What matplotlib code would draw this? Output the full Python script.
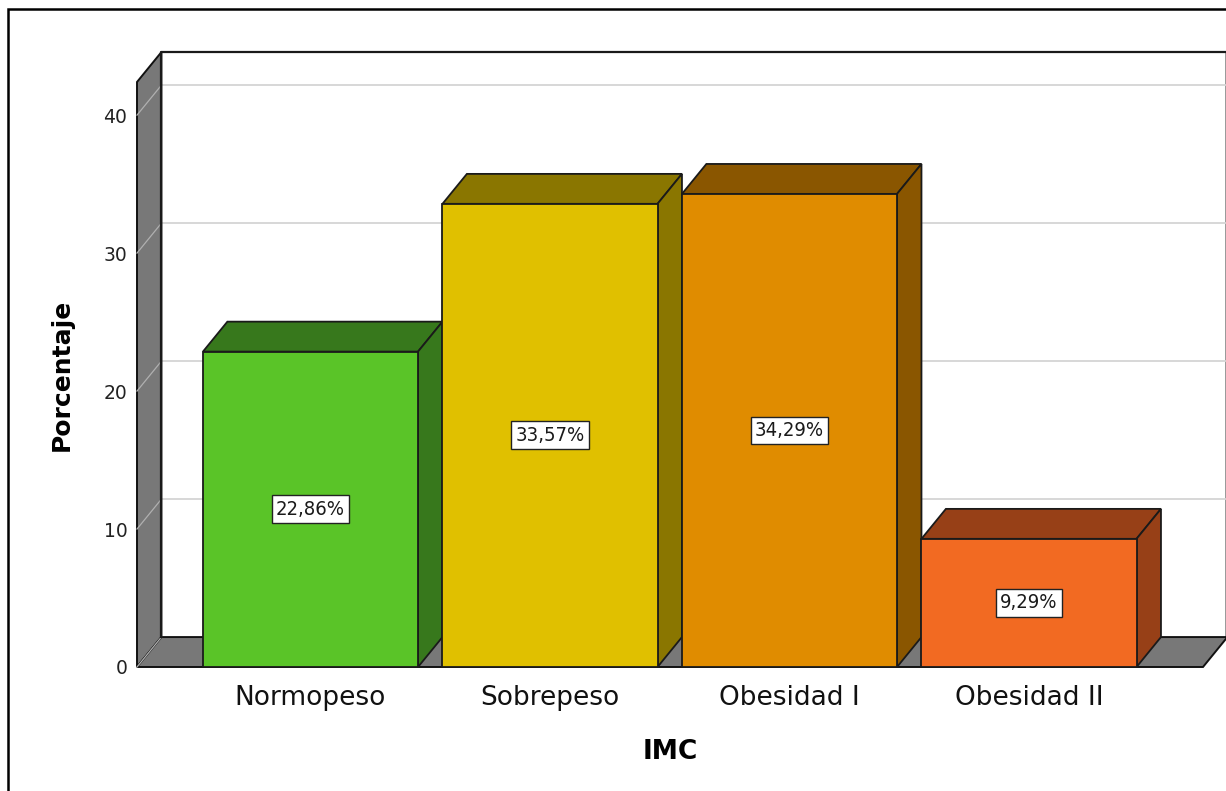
import matplotlib
matplotlib.use("Agg")
import matplotlib.pyplot as plt
from matplotlib.patches import Polygon, Rectangle
from matplotlib.lines import Line2D

# datos
categorias = ["Normopeso", "Sobrepeso", "Obesidad I", "Obesidad II"]
porcentajes = [22.86, 33.57, 34.29, 9.29]
etiquetas = ["22,86%", "33,57%", "34,29%", "9,29%"]
colores_frente = ["#5ac428", "#e0c000", "#e08c00", "#f26a22"]
colores_lado = ["#37781c", "#8a7600", "#8a5600", "#974017"]
ticks_y = [0, 10, 20, 30, 40]

# geometria (unidades de datos)
X_IZQ, X_DER = -0.7244, 3.7265
Y_MAX = 42.4
ANCHO = 0.898
DX, DY = 0.102, 2.17
GRIS = "#787878"

fig = plt.figure(figsize=(12.26, 7.91), dpi=100)
ax = fig.add_axes([137/1226, (791-667)/791, (1203-137)/1226, (667-82)/791])
ax.set_xlim(X_IZQ, X_DER)
ax.set_ylim(0, Y_MAX)
for s in ax.spines.values():
    s.set_visible(False)

# pared del fondo
ax.add_patch(Rectangle((X_IZQ+DX, DY), X_DER-X_IZQ, Y_MAX, facecolor="white",
                       edgecolor="none", clip_on=False, zorder=0))
ax.add_line(Line2D([X_IZQ+DX, X_IZQ+DX, X_DER+DX], [DY, Y_MAX+DY, Y_MAX+DY],
                   color="#1a1a1a", lw=1.6, clip_on=False, zorder=3))
ax.add_line(Line2D([X_DER+DX-0.004]*2, [DY, Y_MAX+DY], color="#888888", lw=1.2,
                   clip_on=False, zorder=1))
for v in ticks_y[1:]:
    ax.add_line(Line2D([X_IZQ+DX, X_DER+DX], [v+DY, v+DY], color="#d4d4d4",
                       lw=1.3, clip_on=False, zorder=1))

# pared izquierda y suelo
ax.add_patch(Polygon([(X_IZQ, 0), (X_IZQ, Y_MAX), (X_IZQ+DX, Y_MAX+DY), (X_IZQ+DX, DY)],
                     closed=True, facecolor=GRIS, edgecolor="#111111", lw=1.4,
                     clip_on=False, zorder=2))
ax.add_patch(Polygon([(X_IZQ, 0), (X_DER, 0), (X_DER+DX, DY), (X_IZQ+DX, DY)],
                     closed=True, facecolor=GRIS, edgecolor="#111111", lw=1.4,
                     clip_on=False, zorder=2))
for v in ticks_y:
    ax.add_line(Line2D([X_IZQ, X_IZQ+DX], [v, v+DY], color="#b0b0b0", lw=0.9,
                       clip_on=False, zorder=2.5))

# barras 3D
for i, (v, cf, cl, et) in enumerate(zip(porcentajes, colores_frente, colores_lado, etiquetas)):
    x0 = i - ANCHO/2
    x1 = i + ANCHO/2
    kw = dict(closed=True, edgecolor="#1a1a1a", lw=1.3, clip_on=False, zorder=4)
    ax.add_patch(Polygon([(x0, v), (x1, v), (x1+DX, v+DY), (x0+DX, v+DY)], facecolor=cl, **kw))
    ax.add_patch(Polygon([(x1, 0), (x1+DX, DY), (x1+DX, v+DY), (x1, v)], facecolor=cl, **kw))
    ax.add_patch(Polygon([(x0, 0), (x1, 0), (x1, v), (x0, v)], facecolor=cf, **kw))
    ax.text(i, v/2, et, ha="center", va="center", fontsize=14.5, zorder=6,
            fontstretch="condensed", color="#1a1a1a",
            bbox=dict(boxstyle="square,pad=0.22", facecolor="white",
                      edgecolor="#222222", lw=1.0))

# ejes
ax.set_xticks(range(len(categorias)))
ax.set_xticklabels(categorias, fontsize=19, color="#111111")
ax.set_yticks(ticks_y)
ax.set_yticklabels([str(t) for t in ticks_y], fontsize=13.5, color="#222222")
ax.tick_params(axis="x", length=0, pad=13)
ax.tick_params(axis="y", length=0, pad=7)
ax.text(-0.0704, 0.5, "Porcentaje", transform=ax.transAxes, rotation=90,
        ha="center", va="center", fontsize=18, fontweight="bold")
ax.text(0.5, -0.1453, "IMC", transform=ax.transAxes, ha="center", va="center",
        fontsize=19, fontweight="bold")

# marco exterior
fig.add_artist(Rectangle((8/1226, -0.1), 1.2, 1.1-9/791, transform=fig.transFigure,
                         fill=False, edgecolor="black", lw=1.8))

fig.savefig("out.png", dpi=100)
